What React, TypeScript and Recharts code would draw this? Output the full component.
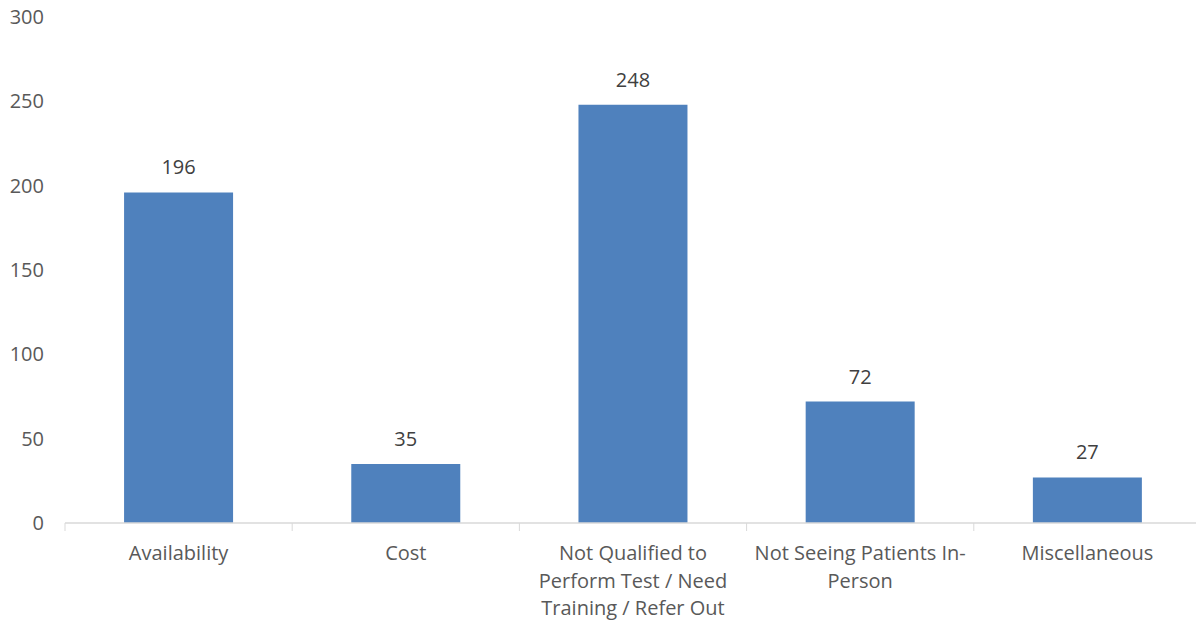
import React from "react";
import { BarChart, Bar, XAxis, YAxis, LabelList } from "recharts";

const categories = [
  "Availability",
  "Cost",
  "Not Qualified to Perform Test / Need Training / Refer Out",
  "Not Seeing Patients In-Person",
  "Miscellaneous",
];
// how Excel wrapped the category labels
const categoryLines = [
  ["Availability"],
  ["Cost"],
  ["Not Qualified to", "Perform Test / Need", "Training / Refer Out"],
  ["Not Seeing Patients In-", "Person"],
  ["Miscellaneous"],
];
const counts = [196, 35, 248, 72, 27];
const yTicks = [0, 50, 100, 150, 200, 250, 300];

const data = categories.map((name, i) => ({ name, value: counts[i] }));

const FONT = "'Open Sans', sans-serif";
const BAND = 1136 / categories.length;

function CategoryTick(props: any) {
  const { x, y, index } = props;
  const lines = categoryLines[index] || [props.payload.value];
  const left = x - BAND / 2;
  return (
    <g>
      <line x1={left} y1={y} x2={left} y2={y + 8} stroke="#d9d9d9" />
      {index === categories.length - 1 && (
        <line x1={x + BAND / 2} y1={y} x2={x + BAND / 2} y2={y + 8} stroke="#d9d9d9" />
      )}
      <text
        x={x}
        y={y + 37}
        textAnchor="middle"
        fill="#595959"
        fontSize={20}
        fontFamily={FONT}
      >
        {lines.map((l: string, i: number) => (
          <tspan key={i} x={x} dy={i === 0 ? 0 : 27.5}>
            {l}
          </tspan>
        ))}
      </text>
    </g>
  );
}

export default function App() {
  return (
    <div
      style={{
        position: "absolute",
        left: 0,
        top: 0,
        width: 1196,
        height: 623,
        overflow: "hidden",
        background: "#fff",
      }}
    >
      <BarChart
        width={1204}
        height={623}
        data={data}
        margin={{ top: 17, right: 3, bottom: 0, left: 0 }}
        barCategoryGap="26%"
      >
        <XAxis
          dataKey="name"
          height={100}
          interval={0}
          tickSize={0}
          tickMargin={0}
          tickLine={false}
          axisLine={{ stroke: "#d9d9d9", strokeWidth: 1.5 }}
          tick={<CategoryTick />}
        />
        <YAxis
          width={65}
          domain={[0, 300]}
          ticks={yTicks}
          tickSize={0}
          tickMargin={21}
          axisLine={false}
          tickLine={false}
          tick={{ fill: "#595959", fontSize: 20, fontFamily: FONT }}
        />
        <Bar dataKey="value" fill="#4f81bd" isAnimationActive={false}>
          <LabelList
            dataKey="value"
            position="top"
            offset={18}
            fill="#404040"
            fontSize={20}
            fontFamily={FONT}
          />
        </Bar>
      </BarChart>
    </div>
  );
}
